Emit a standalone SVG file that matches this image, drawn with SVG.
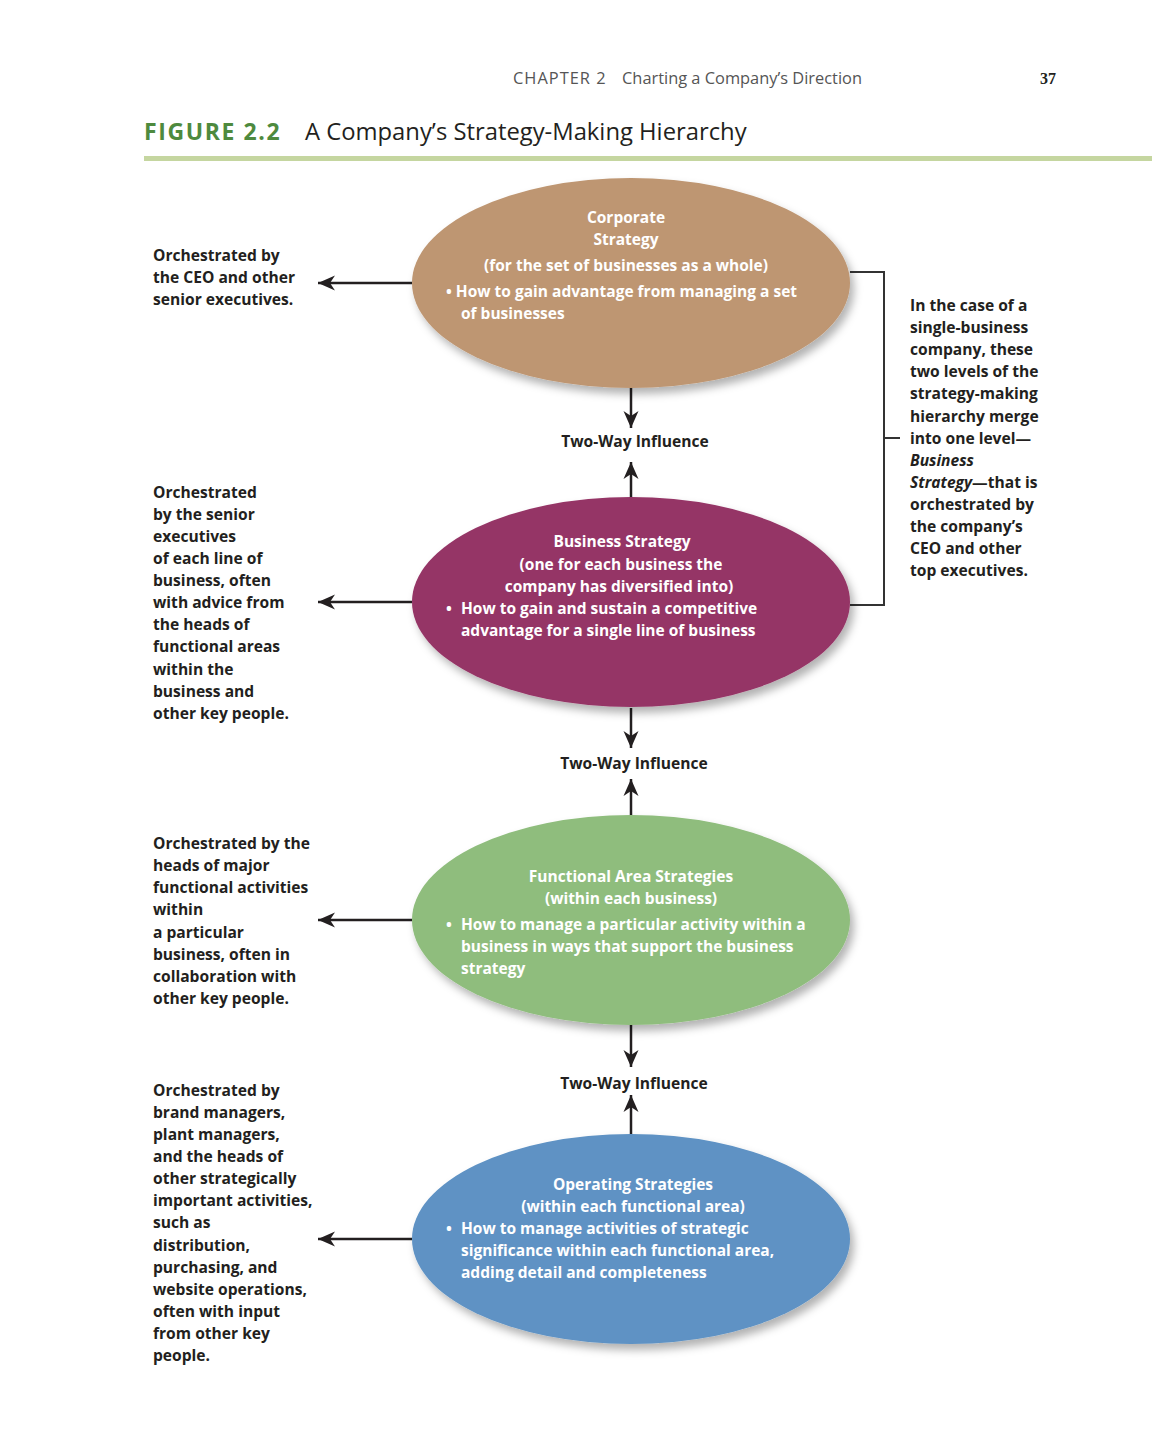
<svg xmlns="http://www.w3.org/2000/svg" width="1152" height="1440" viewBox="0 0 1152 1440">
<style>
.hdr{font-family:"Open Sans",Lato,sans-serif;font-size:16.4px;fill:#555;}
.lbl{font-family:"Open Sans",Lato,sans-serif;font-weight:bold;font-size:15.6px;fill:#231f20;}
.in{font-family:"Open Sans",Lato,sans-serif;font-weight:bold;font-size:15.5px;fill:#fff;}
.mid{text-anchor:middle;}
.ln{stroke:#231f20;stroke-width:2.5;fill:none;}
</style>
<defs>
<filter id="sh" x="-10%" y="-10%" width="125%" height="130%">
<feDropShadow dx="4" dy="6" stdDeviation="4" flood-color="#000" flood-opacity="0.3"/>
</filter>
<marker id="ah" viewBox="-18 -9 20 18" markerWidth="20" markerHeight="18" refX="0" refY="0" orient="auto" markerUnits="userSpaceOnUse">
<path d="M0,0 L-17,-7.5 L-12,0 L-17,7.5 Z" fill="#231f20"/>
</marker>
</defs>
<rect width="1152" height="1440" fill="#fff"/>
<g id="header">
<text x="513" y="84" class="hdr" style="letter-spacing:1px">CHAPTER 2</text>
<text x="622" y="84" class="hdr">Charting a Company’s Direction</text>
<text x="1040" y="84" style="font-family:'Liberation Serif',serif;font-weight:bold;font-size:16px;fill:#231f20">37</text>
<text x="144" y="140" style="font-family:'Open Sans',Lato,sans-serif;font-weight:bold;font-size:23px;fill:#4e8a3e;letter-spacing:1.6px">FIGURE 2.2</text>
<text x="305" y="140" style="font-family:'Open Sans',Lato,sans-serif;font-weight:500;font-size:23.8px;fill:#231f20">A Company’s Strategy-Making Hierarchy</text>
<rect x="144" y="156" width="1008" height="5" fill="#c5d6a0"/>
</g>
<g id="connectors">
<line x1="412" y1="283" x2="318" y2="283" class="ln" marker-end="url(#ah)"/>
<line x1="412" y1="602" x2="318" y2="602" class="ln" marker-end="url(#ah)"/>
<line x1="412" y1="920" x2="318" y2="920" class="ln" marker-end="url(#ah)"/>
<line x1="412" y1="1239" x2="318" y2="1239" class="ln" marker-end="url(#ah)"/>
<line x1="631" y1="388" x2="631" y2="428" class="ln" marker-end="url(#ah)"/>
<line x1="631" y1="498" x2="631" y2="462" class="ln" marker-end="url(#ah)"/>
<line x1="631" y1="708" x2="631" y2="748" class="ln" marker-end="url(#ah)"/>
<line x1="631" y1="815" x2="631" y2="779" class="ln" marker-end="url(#ah)"/>
<line x1="631" y1="1025" x2="631" y2="1067" class="ln" marker-end="url(#ah)"/>
<line x1="631" y1="1134" x2="631" y2="1095" class="ln" marker-end="url(#ah)"/>
<path d="M850,272 H884 V605 H850 M884,438 H900" style="stroke:#333;stroke-width:2;fill:none"/>
<text x="635" y="447" class="lbl mid">Two-Way Influence</text>
<text x="634" y="769" class="lbl mid">Two-Way Influence</text>
<text x="634" y="1089" class="lbl mid">Two-Way Influence</text>
</g>
<g id="corporate">
<ellipse cx="631" cy="283" rx="219" ry="105" fill="#be9672" filter="url(#sh)"/>
<text x="626" y="223" class="in mid">Corporate</text>
<text x="626" y="245" class="in mid">Strategy</text>
<text x="626" y="271" class="in mid">(for the set of businesses as a whole)</text>
<text x="446" y="297" class="in">• How to gain advantage from managing a set</text>
<text x="461" y="319" class="in">of businesses</text>
</g>
<g id="business">
<ellipse cx="631" cy="602" rx="219" ry="105" fill="#953566" filter="url(#sh)"/>
<text x="622" y="547" class="in mid">Business Strategy</text>
<text x="621" y="570" class="in mid">(one for each business the</text>
<text x="619" y="592" class="in mid">company has diversified into)</text>
<text x="446" y="614" class="in">•</text>
<text x="461" y="614" class="in">How to gain and sustain a competitive</text>
<text x="461" y="636" class="in">advantage for a single line of business</text>
</g>
<g id="functional">
<ellipse cx="631" cy="920" rx="219" ry="105" fill="#8fbd7d" filter="url(#sh)"/>
<text x="631" y="882" class="in mid">Functional Area Strategies</text>
<text x="631" y="904" class="in mid">(within each business)</text>
<text x="446" y="930" class="in">•</text>
<text x="461" y="930" class="in">How to manage a particular activity within a</text>
<text x="461" y="952" class="in">business in ways that support the business</text>
<text x="461" y="974" class="in">strategy</text>
</g>
<g id="operating">
<ellipse cx="631" cy="1239" rx="219" ry="105" fill="#5e92c4" filter="url(#sh)"/>
<text x="633" y="1190" class="in mid">Operating Strategies</text>
<text x="633" y="1212" class="in mid">(within each functional area)</text>
<text x="446" y="1234" class="in">•</text>
<text x="461" y="1234" class="in">How to manage activities of strategic</text>
<text x="461" y="1256" class="in">significance within each functional area,</text>
<text x="461" y="1278" class="in">adding detail and completeness</text>
</g>
<g id="note-corporate">
<text class="lbl"><tspan x="153" y="261">Orchestrated by</tspan><tspan x="153" y="283">the CEO and other</tspan><tspan x="153" y="305">senior executives.</tspan></text>
</g>
<g id="note-business">
<text class="lbl"><tspan x="153" y="498">Orchestrated</tspan><tspan x="153" y="520">by the senior</tspan><tspan x="153" y="542">executives</tspan><tspan x="153" y="564">of each line of</tspan><tspan x="153" y="586">business, often</tspan><tspan x="153" y="608">with advice from</tspan><tspan x="153" y="630">the heads of</tspan><tspan x="153" y="652">functional areas</tspan><tspan x="153" y="675">within the</tspan><tspan x="153" y="697">business and</tspan><tspan x="153" y="719">other key people.</tspan></text>
</g>
<g id="note-functional">
<text class="lbl"><tspan x="153" y="849">Orchestrated by the</tspan><tspan x="153" y="871">heads of major</tspan><tspan x="153" y="893">functional activities</tspan><tspan x="153" y="915">within</tspan><tspan x="153" y="938">a particular</tspan><tspan x="153" y="960">business, often in</tspan><tspan x="153" y="982">collaboration with</tspan><tspan x="153" y="1004">other key people.</tspan></text>
</g>
<g id="note-operating">
<text class="lbl"><tspan x="153" y="1096">Orchestrated by</tspan><tspan x="153" y="1118">brand managers,</tspan><tspan x="153" y="1140">plant managers,</tspan><tspan x="153" y="1162">and the heads of</tspan><tspan x="153" y="1184">other strategically</tspan><tspan x="153" y="1206">important activities,</tspan><tspan x="153" y="1228">such as</tspan><tspan x="153" y="1251">distribution,</tspan><tspan x="153" y="1273">purchasing, and</tspan><tspan x="153" y="1295">website operations,</tspan><tspan x="153" y="1317">often with input</tspan><tspan x="153" y="1339">from other key</tspan><tspan x="153" y="1361">people.</tspan></text>
</g>
<g id="note-single-business">
<text class="lbl"><tspan x="910" y="311">In the case of a</tspan><tspan x="910" y="333">single-business</tspan><tspan x="910" y="355">company, these</tspan><tspan x="910" y="377">two levels of the</tspan><tspan x="910" y="399">strategy-making</tspan><tspan x="910" y="422">hierarchy merge</tspan><tspan x="910" y="444">into one level—</tspan><tspan x="910" y="466" font-style="italic">Business</tspan><tspan x="910" y="488"><tspan font-style="italic">Strategy</tspan>—that is</tspan><tspan x="910" y="510">orchestrated by</tspan><tspan x="910" y="532">the company’s</tspan><tspan x="910" y="554">CEO and other</tspan><tspan x="910" y="576">top executives.</tspan></text>
</g>
</svg>
